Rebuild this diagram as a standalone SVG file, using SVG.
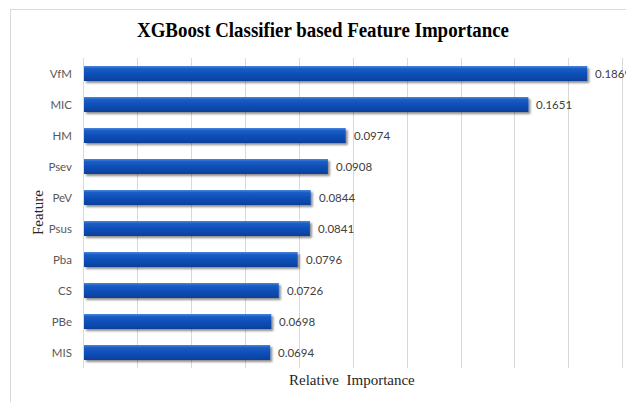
<svg xmlns="http://www.w3.org/2000/svg" width="626" height="402" viewBox="0 0 626 402">
<defs>
<linearGradient id="barGrad" x1="0" y1="0" x2="0" y2="1">
<stop offset="0" stop-color="#4a86dc"/>
<stop offset="0.18" stop-color="#1a5cc4"/>
<stop offset="0.6" stop-color="#0b4db5"/>
<stop offset="1" stop-color="#083f98"/>
</linearGradient>
<filter id="shadow" x="-5%" y="-30%" width="110%" height="180%">
<feGaussianBlur in="SourceAlpha" stdDeviation="1.2"/>
<feOffset dx="1.5" dy="2" result="b"/>
<feComponentTransfer><feFuncA type="linear" slope="0.45"/></feComponentTransfer>
<feMerge><feMergeNode/><feMergeNode in="SourceGraphic"/></feMerge>
</filter>
</defs>
<style>
.frame{fill:#ffffff;stroke:#d9d9d9;stroke-width:1}
.grid{stroke:#d9d9d9;stroke-width:1}
.bar{fill:url(#barGrad);filter:url(#shadow)}
.cat{font-family:Lato,"Liberation Sans",sans-serif;font-size:11.5px;fill:#595959;text-anchor:end}
.val{font-family:Lato,"Liberation Sans",sans-serif;font-size:11.5px;fill:#404040}
.title{font-family:"Liberation Serif",serif;font-weight:bold;font-size:20px;fill:#000}
.axis{font-family:"Liberation Serif",serif;font-size:15px;fill:#262626}
</style>
<rect x="0" y="0" width="626" height="402" fill="#ffffff"/>
<rect class="frame" x="10.5" y="9.5" width="700" height="500"/>
<text class="title" x="137" y="37" textLength="372" lengthAdjust="spacingAndGlyphs">XGBoost Classifier based Feature Importance</text>
<g id="gridlines">
<line class="grid" x1="83.5" y1="58" x2="83.5" y2="368"/>
<line class="grid" x1="137.5" y1="58" x2="137.5" y2="368"/>
<line class="grid" x1="191.5" y1="58" x2="191.5" y2="368"/>
<line class="grid" x1="245.5" y1="58" x2="245.5" y2="368"/>
<line class="grid" x1="299.5" y1="58" x2="299.5" y2="368"/>
<line class="grid" x1="353.5" y1="58" x2="353.5" y2="368"/>
<line class="grid" x1="407.5" y1="58" x2="407.5" y2="368"/>
<line class="grid" x1="461.5" y1="58" x2="461.5" y2="368"/>
<line class="grid" x1="514.5" y1="58" x2="514.5" y2="368"/>
<line class="grid" x1="568.5" y1="58" x2="568.5" y2="368"/>
<line class="grid" x1="622.5" y1="58" x2="622.5" y2="368"/>
</g>
<g id="VfM"><rect class="bar" x="84" y="66" width="503.2" height="15"/><text class="cat" x="72" y="77.5">VfM</text><text class="val" x="595" y="78">0.1869</text></g>
<g id="MIC"><rect class="bar" x="84" y="97" width="444.4" height="15"/><text class="cat" x="72" y="108.5">MIC</text><text class="val" x="536" y="109">0.1651</text></g>
<g id="HM"><rect class="bar" x="84" y="128" width="261.7" height="15"/><text class="cat" x="72" y="139.5">HM</text><text class="val" x="354" y="140">0.0974</text></g>
<g id="Psev"><rect class="bar" x="84" y="159" width="243.9" height="15"/><text class="cat" x="72" y="170.5">Psev</text><text class="val" x="336" y="171">0.0908</text></g>
<g id="PeV"><rect class="bar" x="84" y="190" width="226.7" height="15"/><text class="cat" x="72" y="201.5">PeV</text><text class="val" x="319" y="202">0.0844</text></g>
<g id="Psus"><rect class="bar" x="84" y="221" width="225.9" height="15"/><text class="cat" x="72" y="232.5">Psus</text><text class="val" x="318" y="233">0.0841</text></g>
<g id="Pba"><rect class="bar" x="84" y="252" width="213.7" height="15"/><text class="cat" x="72" y="263.5">Pba</text><text class="val" x="306" y="264">0.0796</text></g>
<g id="CS"><rect class="bar" x="84" y="283" width="194.8" height="15"/><text class="cat" x="72" y="294.5">CS</text><text class="val" x="287" y="295">0.0726</text></g>
<g id="PBe"><rect class="bar" x="84" y="314" width="187.3" height="15"/><text class="cat" x="72" y="325.5">PBe</text><text class="val" x="279" y="326">0.0698</text></g>
<g id="MIS"><rect class="bar" x="84" y="345" width="186.2" height="15"/><text class="cat" x="72" y="356.5">MIS</text><text class="val" x="278" y="357">0.0694</text></g>
<text class="axis" x="289" y="385" xml:space="preserve">Relative  Importance</text>
<text class="axis" transform="translate(43,212.5) rotate(-90)" text-anchor="middle">Feature</text>
</svg>
